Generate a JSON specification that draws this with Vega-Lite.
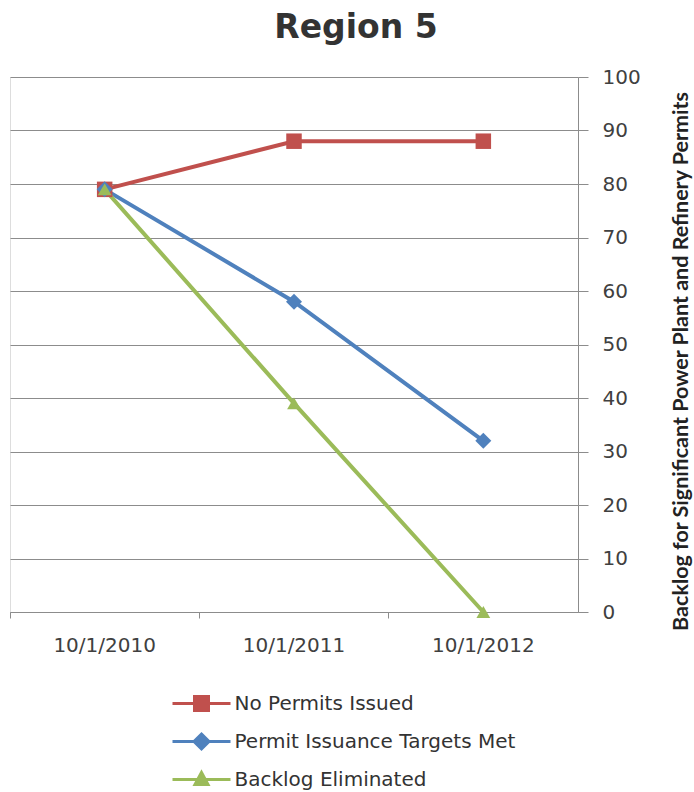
{
  "$schema": "https://vega.github.io/schema/vega-lite/v6.json",
  "autosize": "none",
  "width": 568,
  "height": 535,
  "padding": {"left": 10, "top": 77, "right": 116, "bottom": 180},
  "background": "white",
  "title": {
    "text": "Region 5",
    "font": "DejaVu Sans",
    "fontSize": 33,
    "fontWeight": "bold",
    "color": "#333333",
    "anchor": "middle",
    "frame": "group",
    "dx": 62,
    "offset": 22
  },
  "data": {
    "values": [
      {"date": "10/1/2010", "scenario": "No Permits Issued", "backlog": 79},
      {"date": "10/1/2011", "scenario": "No Permits Issued", "backlog": 88},
      {"date": "10/1/2012", "scenario": "No Permits Issued", "backlog": 88},
      {"date": "10/1/2010", "scenario": "Permit Issuance Targets Met", "backlog": 79},
      {"date": "10/1/2011", "scenario": "Permit Issuance Targets Met", "backlog": 58},
      {"date": "10/1/2012", "scenario": "Permit Issuance Targets Met", "backlog": 32},
      {"date": "10/1/2010", "scenario": "Backlog Eliminated", "backlog": 79},
      {"date": "10/1/2011", "scenario": "Backlog Eliminated", "backlog": 39},
      {"date": "10/1/2012", "scenario": "Backlog Eliminated", "backlog": 0}
    ]
  },
  "encoding": {
    "x": {
      "field": "date",
      "type": "ordinal",
      "sort": null,
      "scale": {"type": "band", "paddingInner": 0, "paddingOuter": 0},
      "axis": {
        "title": null,
        "bandPosition": 0,
        "labelOffset": 0,
        "labelAngle": 0,
        "labelFont": "DejaVu Sans",
        "labelFontSize": 20,
        "labelColor": "#404040",
        "labelPadding": 17,
        "tickSize": 6,
        "tickColor": "#8c8c8c",
        "domainColor": "#8c8c8c",
        "grid": false
      }
    },
    "y": {
      "field": "backlog",
      "type": "quantitative",
      "scale": {"domain": [0, 100], "nice": false},
      "axis": {
        "orient": "right",
        "values": [0, 10, 20, 30, 40, 50, 60, 70, 80, 90, 100],
        "title": "Backlog for Significant Power Plant and Refinery Permits",
        "titleFont": "Liberation Sans Narrow, Lato",
        "titleFontWeight": "bold",
        "titleFontSize": 21.5,
        "titleColor": "#222222",
        "titleAngle": 270,
        "titlePadding": 52,
        "titleY": 284,
        "labelFont": "DejaVu Sans",
        "labelFontSize": 20,
        "labelColor": "#404040",
        "labelPadding": 14,
        "tickSize": 10,
        "tickColor": "#8c8c8c",
        "domainColor": "#8c8c8c",
        "grid": true,
        "gridColor": "#8c8c8c",
        "gridWidth": 1
      }
    },
    "color": {
      "field": "scenario",
      "type": "nominal",
      "sort": null,
      "scale": {
        "domain": ["No Permits Issued", "Permit Issuance Targets Met", "Backlog Eliminated"],
        "range": ["#C0504D", "#4F81BD", "#9BBB59"]
      },
      "legend": {
        "orient": "none",
        "legendX": 180,
        "legendY": 615,
        "direction": "vertical",
        "title": null,
        "padding": 0,
        "symbolSize": 400,
        "symbolStrokeWidth": 3,
        "labelFont": "DejaVu Sans",
        "labelFontSize": 20,
        "labelLimit": 500,
        "labelColor": "#333333",
        "labelOffset": 21.5,
        "rowPadding": 11,
        "encode": {
          "symbols": {
            "update": {
              "shape": {"signal": "datum.value === 'No Permits Issued' ? 'M-2.9,0H2.9M-0.7,-0.7H0.7V0.7H-0.7Z' : datum.value === 'Permit Issuance Targets Met' ? 'M-2.9,0H2.9M0,-0.75L0.75,0L0,0.75L-0.75,0Z' : 'M-2.9,0H2.9M0,-0.7L0.65,0.5L-0.65,0.5Z'"},
              "fill": {"scale": "color", "field": "value"},
              "stroke": {"scale": "color", "field": "value"},
              "opacity": {"value": 1},
              "strokeWidth": {"value": 3}
            }
          }
        }
      }
    }
  },
  "layer": [
    {"mark": {"type": "line", "strokeWidth": 4}},
    {
      "transform": [{"filter": "datum.scenario === 'No Permits Issued'"}],
      "mark": {"type": "point", "filled": true, "opacity": 1, "shape": "square", "size": 240}
    },
    {
      "transform": [{"filter": "datum.scenario === 'Permit Issuance Targets Met'"}],
      "mark": {"type": "point", "filled": true, "opacity": 1, "shape": "diamond", "size": 256}
    },
    {
      "transform": [{"filter": "datum.scenario === 'Backlog Eliminated'"}],
      "mark": {"type": "point", "filled": true, "opacity": 1, "shape": "triangle-up", "size": 190}
    }
  ]
}
